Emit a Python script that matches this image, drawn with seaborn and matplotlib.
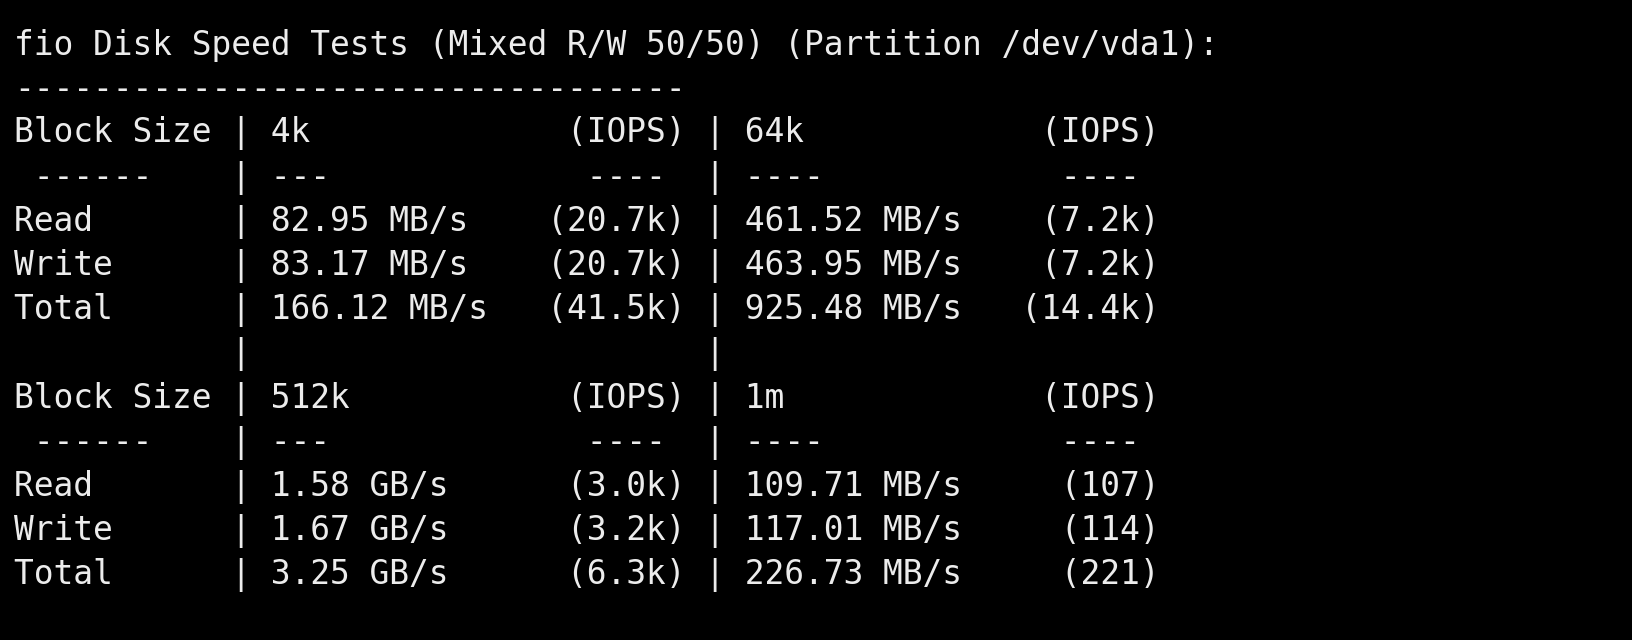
"""Recreate a terminal screenshot of fio disk speed results."""

import matplotlib

matplotlib.use("Agg")
import matplotlib.pyplot as plt
import seaborn as sns

TITLE = "fio Disk Speed Tests (Mixed R/W 50/50) (Partition /dev/vda1):"
ROW_LABELS = ["Read", "Write", "Total"]

BLOCK_SIZES_TOP = ["4k", "64k"]
SPEEDS_TOP = [["82.95 MB/s", "83.17 MB/s", "166.12 MB/s"],
              ["461.52 MB/s", "463.95 MB/s", "925.48 MB/s"]]
IOPS_TOP = [["(20.7k)", "(20.7k)", "(41.5k)"],
            ["(7.2k)", "(7.2k)", "(14.4k)"]]

BLOCK_SIZES_BOTTOM = ["512k", "1m"]
SPEEDS_BOTTOM = [["1.58 GB/s", "1.67 GB/s", "3.25 GB/s"],
                 ["109.71 MB/s", "117.01 MB/s", "226.73 MB/s"]]
IOPS_BOTTOM = [["(3.0k)", "(3.2k)", "(6.3k)"],
               ["(107)", "(114)", "(221)"]]

FIELD = 21


def field(left, right):
    return left.ljust(FIELD - len(right)) + right


def block_lines(sizes, speeds, iops):
    lines = ["Block Size | " + " | ".join(field(s, "(IOPS)") for s in sizes)]
    lines.append(" ------    | " + field("---", "---- ") + " | " + field("----", "---- "))
    for i, label in enumerate(ROW_LABELS):
        cells = [field(speeds[c][i], iops[c][i]) for c in range(len(sizes))]
        lines.append(label.ljust(10) + " | " + " | ".join(cells))
    return lines


lines = [TITLE, "-" * 34]
lines += block_lines(BLOCK_SIZES_TOP, SPEEDS_TOP, IOPS_TOP)
lines.append(" " * 11 + "|" + " " * 23 + "|")
lines += block_lines(BLOCK_SIZES_BOTTOM, SPEEDS_BOTTOM, IOPS_BOTTOM)

sns.set_style("dark")
plt.rcParams["font.family"] = ["DejaVu Sans Mono"]

fig = plt.figure(figsize=(16.32, 6.4), dpi=100, facecolor="black")
ax = fig.add_axes([0, 0, 1, 1])
ax.set_facecolor("black")
ax.set_xlim(0, 1632)
ax.set_ylim(640, 0)
ax.axis("off")

for row, text in enumerate(lines):
    ax.text(14, 45 + row * 44.2, text, color="#ececec", fontsize=23.7,
            va="center", ha="left")

fig.savefig("out.png", facecolor="black")
